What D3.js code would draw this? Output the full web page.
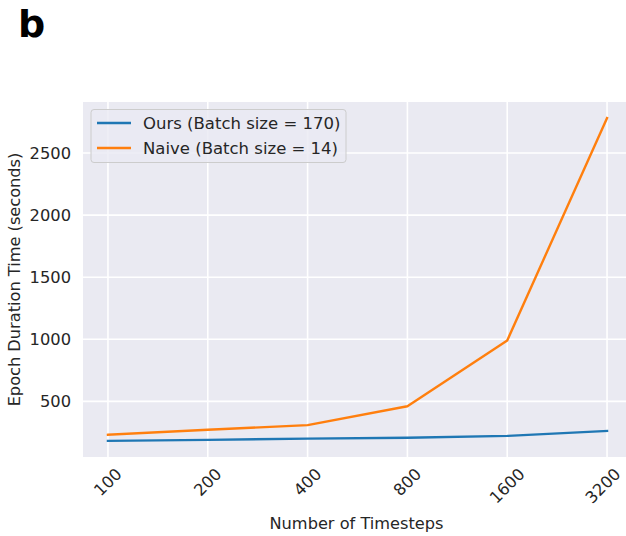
<!DOCTYPE html>
<html>
<head>
<meta charset="utf-8">
<script src="https://cdn.jsdelivr.net/npm/d3@7"></script>
<style>
  html, body { margin: 0; padding: 0; background: #ffffff; }
  svg { display: block; font-family: "DejaVu Sans", sans-serif; }
</style>
</head>
<body>
<svg id="chart" width="626" height="536"></svg>
<script>
// Timestep counts (categorical x axis)
const timesteps = ["100", "200", "400", "800", "1600", "3200"];
// Epoch durations in seconds
const oursValues  = [182, 190, 200, 207, 222, 262];
const naiveValues = [231, 271, 309, 461, 991, 2781];
const seriesNames = ["Ours (Batch size = 170)", "Naive (Batch size = 14)"];
const seriesColors = ["#1f77b4", "#ff7f0e"];
const yTicks = [500, 1000, 1500, 2000, 2500];

const svg = d3.select("#chart");
const plot = { left: 83, top: 102, right: 632, bottom: 457 };

// Categorical positions with a quarter-step margin on either side
const x = d3.scaleLinear()
  .domain([-0.25, timesteps.length - 0.75])
  .range([plot.left, plot.right]);

const all = oursValues.concat(naiveValues);
const lo = d3.min(all), hi = d3.max(all), pad = (hi - lo) * 0.05;
const y = d3.scaleLinear()
  .domain([lo - pad, hi + pad])
  .range([plot.bottom, plot.top]);

// Panel letter
svg.append("text")
  .attr("x", 18).attr("y", 37)
  .attr("font-size", 38).attr("font-weight", "bold")
  .attr("fill", "#000")
  .text("b");

// Plot background
const clipId = "plotclip";
svg.append("clipPath").attr("id", clipId)
  .append("rect")
  .attr("x", plot.left).attr("y", plot.top)
  .attr("width", plot.right - plot.left).attr("height", plot.bottom - plot.top);

svg.append("rect")
  .attr("x", plot.left).attr("y", plot.top)
  .attr("width", plot.right - plot.left).attr("height", plot.bottom - plot.top)
  .attr("fill", "#eaeaf2");

const g = svg.append("g").attr("clip-path", `url(#${clipId})`);

// Grid lines
g.selectAll("line.hgrid").data(yTicks).join("line")
  .attr("class", "hgrid")
  .attr("x1", plot.left).attr("x2", plot.right)
  .attr("y1", d => y(d)).attr("y2", d => y(d))
  .attr("stroke", "#ffffff").attr("stroke-width", 1.6);

g.selectAll("line.vgrid").data(timesteps).join("line")
  .attr("class", "vgrid")
  .attr("x1", (d, i) => x(i)).attr("x2", (d, i) => x(i))
  .attr("y1", plot.top).attr("y2", plot.bottom)
  .attr("stroke", "#ffffff").attr("stroke-width", 1.6);

// Series lines
const line = d3.line().x((d, i) => x(i)).y(d => y(d));
[oursValues, naiveValues].forEach((vals, k) => {
  g.append("path")
    .datum(vals)
    .attr("d", line)
    .attr("fill", "none")
    .attr("stroke", seriesColors[k])
    .attr("stroke-width", 2.4)
    .attr("stroke-linejoin", "round")
    .attr("stroke-linecap", "square");
});

// Y axis tick labels
const yAxis = d3.axisLeft(y).tickValues(yTicks).tickFormat(d3.format("d"))
  .tickSize(0).tickPadding(12);
const yG = svg.append("g")
  .attr("transform", `translate(${plot.left},0)`)
  .call(yAxis);
yG.select(".domain").remove();
yG.selectAll("text")
  .attr("font-size", 16.3)
  .attr("font-family", "DejaVu Sans, sans-serif")
  .attr("fill", "#262626");

// X axis tick labels, rotated 45 degrees and centred under each tick
const xLabels = svg.append("g");
timesteps.forEach((t, i) => {
  const txt = xLabels.append("text")
    .attr("font-size", 16.3)
    .attr("fill", "#262626")
    .attr("text-anchor", "middle")
    .attr("dominant-baseline", "central")
    .text(t);
  const w = txt.node().getComputedTextLength();
  const h = 12;
  const cy = 467 + (w + h) / (2 * Math.SQRT2);
  // keep the last label inside the canvas
  const cx = Math.min(x(i), 603);
  txt.attr("transform", `translate(${cx},${cy}) rotate(-45)`);
});

// Axis titles
svg.append("text")
  .attr("x", (plot.left + 632) / 2 - 1).attr("y", 529)
  .attr("text-anchor", "middle")
  .attr("font-size", 16.2).attr("fill", "#262626")
  .text("Number of Timesteps");

svg.append("text")
  .attr("transform", `translate(20,${(plot.top + plot.bottom) / 2}) rotate(-90)`)
  .attr("text-anchor", "middle")
  .attr("font-size", 16.2).attr("fill", "#262626")
  .text("Epoch Duration Time (seconds)");

// Legend
const legend = svg.append("g");
legend.append("rect")
  .attr("x", 91).attr("y", 109.5)
  .attr("width", 255).attr("height", 53)
  .attr("rx", 3)
  .attr("fill", "#eaeaf2").attr("fill-opacity", 0.8)
  .attr("stroke", "#cccccc").attr("stroke-width", 1);
seriesNames.forEach((name, k) => {
  const yy = 123 + k * 25;
  legend.append("line")
    .attr("x1", 97).attr("x2", 131)
    .attr("y1", yy).attr("y2", yy)
    .attr("stroke", seriesColors[k]).attr("stroke-width", 2.4);
  legend.append("text")
    .attr("x", 143).attr("y", yy)
    .attr("dominant-baseline", "central")
    .attr("font-size", 16.5).attr("fill", "#262626")
    .text(name);
});
</script>
</body>
</html>
